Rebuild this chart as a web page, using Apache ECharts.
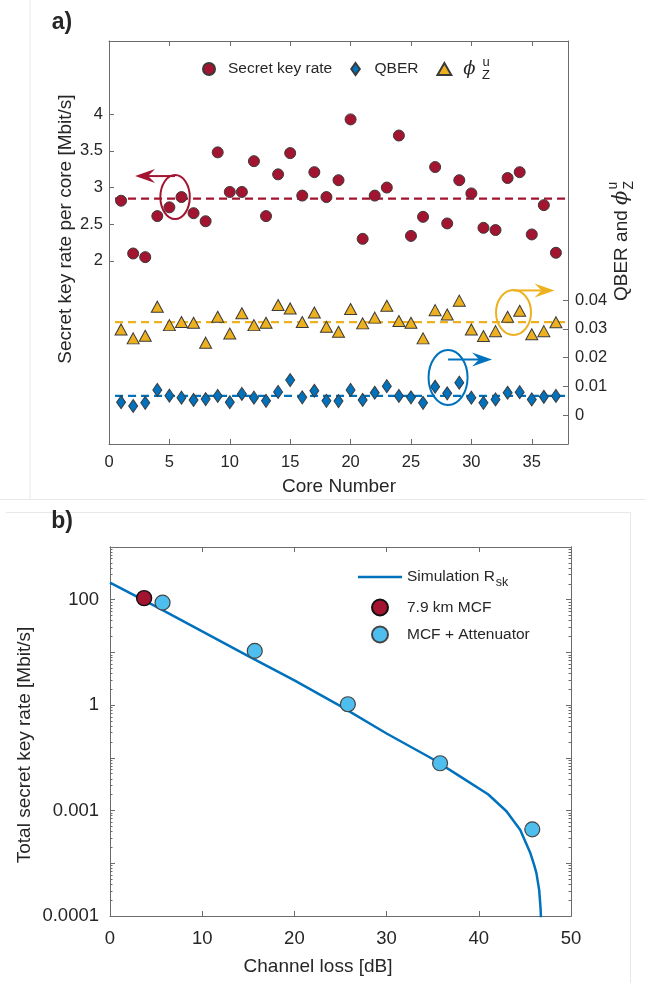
<!DOCTYPE html>
<html><head><meta charset="utf-8">
<script src="https://cdn.jsdelivr.net/npm/echarts@6.0.0/dist/echarts.min.js"></script>
<style>html,body{margin:0;padding:0;background:#fff}#c{width:646px;height:983px}</style>
</head><body><div id="c"></div>
<script>
// ---------- data (panel a) ----------
const cores = [1,2,3,4,5,6,7,8,9,10,11,12,13,14,15,16,17,18,19,20,21,22,23,24,25,26,27,28,29,30,31,32,33,34,35,36,37];
const secretKeyRate = [2.82,2.10,2.05,2.61,2.73,2.87,2.65,2.54,3.48,2.94,2.94,3.36,2.61,3.18,3.47,2.89,3.21,2.87,3.10,3.93,2.30,2.89,3.00,3.71,2.34,2.60,3.28,2.51,3.10,2.92,2.45,2.42,3.13,3.21,2.36,2.76,2.11];
const qber = [0.0045,0.0032,0.0043,0.0088,0.0068,0.0061,0.0053,0.0056,0.0067,0.0045,0.0074,0.0061,0.0050,0.0081,0.0122,0.0062,0.0085,0.0050,0.0049,0.0088,0.0053,0.0078,0.0101,0.0067,0.0062,0.0043,0.0099,0.0076,0.0113,0.0061,0.0043,0.0055,0.0078,0.0080,0.0055,0.0064,0.0067];
const phiZu = [0.0298,0.0267,0.0276,0.0377,0.0313,0.0324,0.0321,0.0252,0.0342,0.0284,0.0354,0.0313,0.0321,0.0383,0.0371,0.0324,0.0357,0.0307,0.0290,0.0369,0.0319,0.0339,0.0380,0.0327,0.0321,0.0267,0.0365,0.0350,0.0398,0.0298,0.0275,0.0292,0.0342,0.0363,0.0281,0.0292,0.0323];
const meanSpan = [0.5, 38];
const coreTicks = [0,5,10,15,20,25,30,35];
const skrTicks = [2,2.5,3,3.5,4];
const qberTicks = [0,0.01,0.02,0.03,0.04];

// ---------- data (panel b) ----------
const simLoss = [0,5,10,15,20,25,30,35,38,41,43,44.5,45.6,46.0,46.25,46.55,46.7,46.8];
const simRate = [211,74,25,8.5,2.95,0.96,0.29,0.095,0.044,0.0204,0.0097,0.0043,0.00155,0.00093,0.00065,0.00031,0.00014,0.00005];
const mcfLoss = [3.7];
const mcfRate = [107];
const attLoss = [5.7,15.7,25.8,35.8,45.8];
const attRate = [88,10.7,1.04,0.079,0.0044];
const lossTicks = [0,10,20,30,40,50];
const decadeTicks = [1e-4,1e-3,1e-2,1e-1,1,10,100,1000];
const rateTickValues = [1e-4,1e-2,1,100];
const rateTickLabels = ['0.0001','0.001','1','100'];

// ---------- styles ----------
const FONT = 'Liberation Sans, Arial, Helvetica, sans-serif';
const AX = '#6b6b6b', TXT = '#262626';
const RED = '#A2142F', BLUE = '#0072BD', YEL = '#EDB120', LBLUE = '#4DBEEE';
const mean = a => a.reduce((s,v)=>s+v,0)/a.length;
const minorTicks = [];
decadeTicks.slice(0,-1).forEach(d => { for (let k=2;k<=9;k++) minorTicks.push(k*d); });

const lineStyle = {color: AX, width: 1};
const lblA = {fontSize: 16.5, color: TXT, fontFamily: FONT};
const lblB = {fontSize: 18.5, color: TXT, fontFamily: FONT};
function axisBase(extra){
  return Object.assign({
    axisLine:{show:true, onZero:false, lineStyle},
    splitLine:{show:false},
    axisTick:{show:true, inside:true, length:5, lineStyle}
  }, extra);
}
const DIAMOND = 'path://M5,0 L10,7 L5,14 L0,7 Z';
const TRIANGLE = 'path://M6,0 L12,10.4 L0,10.4 Z';
const LINEICON = 'path://M0,0 L100,0 L100,5.5 L0,5.5 Z';

const chart = echarts.init(document.getElementById('c'), null, {renderer:'canvas'});
const option = {
  animation:false,
  backgroundColor:'#fff',
  textStyle:{fontFamily: FONT},
  grid:[
    {left:109, top:41, right:78, bottom:539, containLabel:false},
    {left:110, top:547, right:75, bottom:67, containLabel:false}
  ],
  xAxis:[
    axisBase({type:'value', gridIndex:0, position:'bottom', min:0, max:38,
      axisTick:{show:true, inside:true, length:5, lineStyle, customValues:coreTicks},
      axisLabel:Object.assign({customValues:coreTicks, margin:10}, lblA)}),
    axisBase({type:'value', gridIndex:0, position:'top', min:0, max:38,
      axisTick:{show:true, inside:true, length:5, lineStyle, customValues:coreTicks},
      axisLabel:{show:false}}),
    axisBase({type:'value', gridIndex:1, position:'bottom', min:0, max:50, interval:10,
      axisTick:{show:true, inside:true, length:5, lineStyle, customValues:lossTicks},
      axisLabel:Object.assign({customValues:lossTicks, margin:13}, lblB)}),
    axisBase({type:'value', gridIndex:1, position:'top', min:0, max:50, interval:10,
      axisTick:{show:true, inside:true, length:5, lineStyle, customValues:lossTicks},
      axisLabel:{show:false}})
  ],
  yAxis:[
    axisBase({type:'value', gridIndex:0, position:'left', min:-0.5, max:5,
      axisTick:{show:true, inside:true, length:5, lineStyle, customValues:skrTicks},
      axisLabel:Object.assign({customValues:skrTicks, margin:6}, lblA)}),
    axisBase({type:'value', gridIndex:0, position:'right', min:-0.01, max:0.13,
      axisTick:{show:true, inside:true, length:5, lineStyle, customValues:qberTicks},
      axisLabel:Object.assign({customValues:qberTicks, margin:7}, lblA)}),
    axisBase({type:'log', logBase:10, gridIndex:1, position:'left', min:1e-4, max:1e3,
      axisTick:{show:true, inside:true, length:5, lineStyle, customValues:decadeTicks},
      axisLabel:Object.assign({customValues:rateTickValues, margin:11,
        formatter: v => { const i = rateTickValues.findIndex(t => Math.abs(Math.log10(t)-Math.log10(v))<1e-6); return i>=0 ? rateTickLabels[i] : ''; }}, lblB)}),
    axisBase({type:'log', logBase:10, gridIndex:1, position:'right', min:1e-4, max:1e3,
      axisTick:{show:true, inside:true, length:5, lineStyle, customValues:decadeTicks},
      axisLabel:{show:false}}),
    axisBase({type:'log', logBase:10, gridIndex:1, position:'left', min:1e-4, max:1e3,
      axisTick:{show:true, inside:true, length:2.5, lineStyle, customValues:minorTicks},
      axisLabel:{show:false}}),
    axisBase({type:'log', logBase:10, gridIndex:1, position:'right', min:1e-4, max:1e3,
      axisTick:{show:true, inside:true, length:2.5, lineStyle, customValues:minorTicks},
      axisLabel:{show:false}})
  ],
  legend:[
    {data:[{name:'Secret key rate', icon:'circle'},{name:'QBER', icon:DIAMOND},{name:'ϕ', icon:TRIANGLE}],
     left:197, top:55, orient:'horizontal', symbolKeepAspect:true,
     itemWidth:28, itemHeight:12, itemGap:18, selectedMode:false,
     formatter: n => n==='ϕ' ? '{p|ϕ}' : n,
     textStyle:{fontSize:15.5, color:TXT, fontFamily:FONT, rich:{p:{fontSize:18, fontStyle:'italic', color:TXT, fontFamily:'DejaVu Serif, serif'}}}},
    {data:[{name:'Simulation Rsk', icon:LINEICON},{name:'7.9 km MCF', icon:'circle'},{name:'MCF + Attenuator', icon:'circle'}],
     left:353, top:564, orient:'vertical', symbolKeepAspect:true,
     itemWidth:44, itemHeight:16, itemGap:9, selectedMode:false,
     formatter: n => n==='Simulation Rsk' ? '{a|Simulation R}{s|sk}' : n,
     textStyle:{fontSize:15.5, color:TXT, fontFamily:FONT,
       rich:{a:{fontSize:15.5, color:TXT, fontFamily:FONT}, s:{fontSize:12.5, color:TXT, fontFamily:FONT, padding:[12,0,0,1]}}}}
  ],
  series:[
    {name:'mean skr', type:'line', xAxisIndex:0, yAxisIndex:0, symbol:'none', silent:true, z:1,
     data: meanSpan.map(x => [x, mean(secretKeyRate)]), lineStyle:{color:RED, width:2.2, type:[8,5]}},
    {name:'mean phi', type:'line', xAxisIndex:0, yAxisIndex:1, symbol:'none', silent:true, z:1,
     data: meanSpan.map(x => [x, mean(phiZu)]), lineStyle:{color:YEL, width:2.2, type:[8,5]}},
    {name:'mean qber', type:'line', xAxisIndex:0, yAxisIndex:1, symbol:'none', silent:true, z:1,
     data: meanSpan.map(x => [x, mean(qber)]), lineStyle:{color:BLUE, width:2.2, type:[8,5]}},
    {name:'Secret key rate', type:'scatter', xAxisIndex:0, yAxisIndex:0, symbol:'circle', symbolSize:11, z:3,
     data: cores.map((c,i)=>[c, secretKeyRate[i]]), itemStyle:{color:RED, opacity:1, borderColor:'#3a3a3a', borderWidth:1}},
    {name:'QBER', type:'scatter', xAxisIndex:0, yAxisIndex:1, symbol:'diamond', symbolSize:[9,13], z:3,
     data: cores.map((c,i)=>[c, qber[i]]), itemStyle:{color:BLUE, opacity:1, borderColor:'#3a3a3a', borderWidth:1}},
    {name:'ϕ', type:'scatter', xAxisIndex:0, yAxisIndex:1, symbol:'triangle', symbolSize:[12,11], z:3,
     data: cores.map((c,i)=>[c, phiZu[i]]), itemStyle:{color:YEL, opacity:1, borderColor:'#3a3a3a', borderWidth:1}},
    {name:'Simulation Rsk', type:'line', xAxisIndex:2, yAxisIndex:2, symbol:'none', smooth:false, clip:true, z:2,
     data: simLoss.map((x,i)=>[x, simRate[i]]), lineStyle:{color:BLUE, width:2.5}, itemStyle:{color:BLUE}},
    {name:'7.9 km MCF', type:'scatter', xAxisIndex:2, yAxisIndex:2, symbol:'circle', symbolSize:15, z:4,
     data: mcfLoss.map((x,i)=>[x, mcfRate[i]]), itemStyle:{color:RED, opacity:1, borderColor:'#111', borderWidth:1.4}},
    {name:'MCF + Attenuator', type:'scatter', xAxisIndex:2, yAxisIndex:2, symbol:'circle', symbolSize:15, z:4,
     data: attLoss.map((x,i)=>[x, attRate[i]]), itemStyle:{color:LBLUE, opacity:1, borderColor:'#444', borderWidth:1.2}}
  ]
};
chart.setOption(option);

// ---------- text, annotations ----------
const TITLE = 19;
const meas = document.createElement('canvas').getContext('2d');
meas.font = TITLE + 'px ' + FONT;
const qw = meas.measureText('QBER and ').width;
meas.font = 'italic 21px DejaVu Serif, serif';
const pw = meas.measureText('ϕ').width;

function px(xi, yi, pt){ return chart.convertToPixel({xAxisIndex:xi, yAxisIndex:yi}, pt); }
const annotations = [
  {color:RED, axes:[0,0], center:[5.47, 2.87], rx:14.7, ry:22, dir:-1, dy:-21, len:40},
  {color:YEL, axes:[0,1], center:[33.49, 0.0357], rx:17.5, ry:22.5, dir:1, dy:-22, len:41},
  {color:BLUE, axes:[0,1], center:[28.07, 0.0131], rx:19.5, ry:27.5, dir:1, dy:-18, len:44}
];
const g = [];
annotations.forEach(a => {
  const c = px(a.axes[0], a.axes[1], a.center);
  g.push({type:'ellipse', shape:{cx:c[0], cy:c[1], rx:a.rx, ry:a.ry}, style:{fill:'none', stroke:a.color, lineWidth:2}, z:10});
  const ty = c[1] + a.dy, tx = c[0] + a.dir*a.len;
  const L = 20, W = 7, N = 7;
  g.push({type:'line', shape:{x1:c[0], y1:ty, x2:tx - a.dir*(L-N), y2:ty}, style:{stroke:a.color, lineWidth:2}, z:10});
  g.push({type:'polygon', shape:{points:[[tx,ty],[tx-a.dir*L,ty-W],[tx-a.dir*(L-N),ty],[tx-a.dir*L,ty+W]]}, style:{fill:a.color}, z:10});
});
const T = (text, x, y, opts) => Object.assign({type:'text', x, y, z:20,
  style:Object.assign({text, fill:TXT, font:TITLE+'px '+FONT, align:'center', verticalAlign:'middle'}, opts && opts.style || {})},
  opts && opts.el || {});
g.push(T('a)', 62, 23, {style:{font:'bold 23px '+FONT}}));
g.push(T('b)', 62, 522, {style:{font:'bold 23px '+FONT}}));
g.push(T('Core Number', 339, 487));
g.push(T('Channel loss [dB]', 318, 967));
g.push(T('Secret key rate per core [Mbit/s]', 66, 229, {el:{rotation:Math.PI/2}}));
g.push(T('Total secret key rate [Mbit/s]', 25, 745, {el:{rotation:Math.PI/2}}));
g.push({type:'group', x:622, y:301, rotation:Math.PI/2, z:20, children:[
  {type:'text', x:0, y:0, style:{text:'QBER and ', fill:TXT, font:TITLE+'px '+FONT, align:'left', verticalAlign:'middle'}},
  {type:'text', x:qw, y:0, style:{text:'ϕ', fill:TXT, font:'italic 21px DejaVu Serif, serif', align:'left', verticalAlign:'middle'}},
  {type:'text', x:qw+pw+1, y:-9, style:{text:'u', fill:TXT, font:'14px '+FONT, align:'left', verticalAlign:'middle'}},
  {type:'text', x:qw+pw+1, y:7, style:{text:'Z', fill:TXT, font:'14px '+FONT, align:'left', verticalAlign:'middle'}}
]});
g.push(T('u', 486, 62, {style:{font:'13px '+FONT}}));
g.push(T('Z', 486, 75, {style:{font:'13px '+FONT}}));
// faint panel borders
const faint = {stroke:'#e8e8e8', lineWidth:1};
g.push({type:'line', shape:{x1:30, y1:0, x2:30, y2:499}, style:faint, z:0});
g.push({type:'line', shape:{x1:0, y1:499.5, x2:646, y2:499.5}, style:faint, z:0});
g.push({type:'line', shape:{x1:6, y1:512.5, x2:630, y2:512.5}, style:faint, z:0});
g.push({type:'line', shape:{x1:630.5, y1:512, x2:630.5, y2:983}, style:faint, z:0});
chart.setOption({graphic:g});
</script>
</body></html>
